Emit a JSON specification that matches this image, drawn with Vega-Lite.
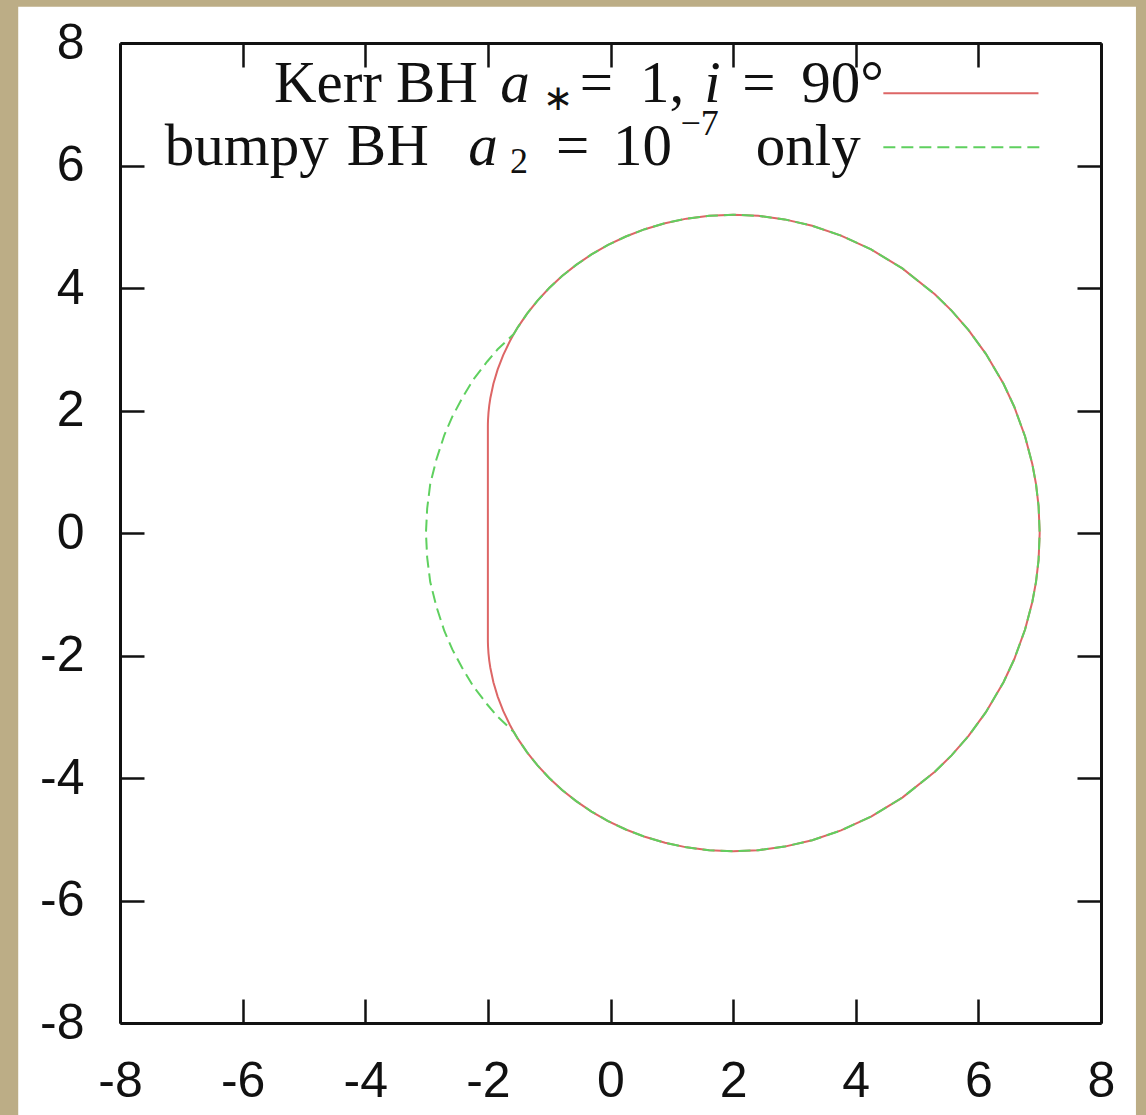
{
  "$schema": "https://vega.github.io/schema/vega-lite/v6.json",
  "width": 981,
  "height": 980,
  "autosize": "none",
  "padding": {"left": 120, "top": 43, "right": 45, "bottom": 92},
  "background": "#bcad86",
  "config": {"view": {"stroke": null}},
  "datasets": {
    "panel": [{"x0": -9.66, "x1": 8.57, "y0": -9.5, "y1": 8.59}],
    "kerr": [
      {"o": 1, "x": -2, "y": 1.7321}, {"o": 2, "x": -1.9996, "y": 1.7783}, {"o": 3, "x": -1.9975, "y": 1.848},
      {"o": 4, "x": -1.99, "y": 1.9647}, {"o": 5, "x": -1.9775, "y": 2.082}, {"o": 6, "x": -1.96, "y": 2.1996},
      {"o": 7, "x": -1.91, "y": 2.4356}, {"o": 8, "x": -1.84, "y": 2.671}, {"o": 9, "x": -1.75, "y": 2.9047},
      {"o": 10, "x": -1.64, "y": 3.1353}, {"o": 11, "x": -1.5775, "y": 3.249}, {"o": 12, "x": -1.51, "y": 3.3615},
      {"o": 13, "x": -1.36, "y": 3.582}, {"o": 14, "x": -1.19, "y": 3.7952}, {"o": 15, "x": -1, "y": 4},
      {"o": 16, "x": -0.79, "y": 4.1948}, {"o": 17, "x": -0.56, "y": 4.3779}, {"o": 18, "x": -0.31, "y": 4.548},
      {"o": 19, "x": -0.04, "y": 4.703}, {"o": 20, "x": 0.25, "y": 4.8412}, {"o": 21, "x": 0.56, "y": 4.9605},
      {"o": 22, "x": 0.89, "y": 5.0585}, {"o": 23, "x": 1.24, "y": 5.1325}, {"o": 24, "x": 1.61, "y": 5.1796},
      {"o": 25, "x": 2.0, "y": 5.1962}, {"o": 26, "x": 2.41, "y": 5.178}, {"o": 27, "x": 2.84, "y": 5.12},
      {"o": 28, "x": 3.29, "y": 5.0156}, {"o": 29, "x": 3.76, "y": 4.8562}, {"o": 30, "x": 4.25, "y": 4.6301},
      {"o": 31, "x": 4.76, "y": 4.32}, {"o": 32, "x": 5.29, "y": 3.8982}, {"o": 33, "x": 5.5625, "y": 3.6309},
      {"o": 34, "x": 5.84, "y": 3.3128}, {"o": 35, "x": 6.1225, "y": 2.9257}, {"o": 36, "x": 6.41, "y": 2.4356},
      {"o": 37, "x": 6.5849, "y": 2.0613}, {"o": 38, "x": 6.7616, "y": 1.5761}, {"o": 39, "x": 6.8804, "y": 1.1229},
      {"o": 40, "x": 6.9401, "y": 0.797}, {"o": 41, "x": 6.982, "y": 0.4377}, {"o": 42, "x": 7, "y": 0},
      {"o": 43, "x": 6.982, "y": -0.4377}, {"o": 44, "x": 6.9401, "y": -0.797}, {"o": 45, "x": 6.8804, "y": -1.1229},
      {"o": 46, "x": 6.7616, "y": -1.5761}, {"o": 47, "x": 6.5849, "y": -2.0613}, {"o": 48, "x": 6.41, "y": -2.4356},
      {"o": 49, "x": 6.1225, "y": -2.9257}, {"o": 50, "x": 5.84, "y": -3.3128}, {"o": 51, "x": 5.5625, "y": -3.6309},
      {"o": 52, "x": 5.29, "y": -3.8982}, {"o": 53, "x": 4.76, "y": -4.32}, {"o": 54, "x": 4.25, "y": -4.6301},
      {"o": 55, "x": 3.76, "y": -4.8562}, {"o": 56, "x": 3.29, "y": -5.0156}, {"o": 57, "x": 2.84, "y": -5.12},
      {"o": 58, "x": 2.41, "y": -5.178}, {"o": 59, "x": 2.0, "y": -5.1962}, {"o": 60, "x": 1.61, "y": -5.1796},
      {"o": 61, "x": 1.24, "y": -5.1325}, {"o": 62, "x": 0.89, "y": -5.0585}, {"o": 63, "x": 0.56, "y": -4.9605},
      {"o": 64, "x": 0.25, "y": -4.8412}, {"o": 65, "x": -0.04, "y": -4.703}, {"o": 66, "x": -0.31, "y": -4.548},
      {"o": 67, "x": -0.56, "y": -4.3779}, {"o": 68, "x": -0.79, "y": -4.1948}, {"o": 69, "x": -1, "y": -4},
      {"o": 70, "x": -1.19, "y": -3.7952}, {"o": 71, "x": -1.36, "y": -3.582}, {"o": 72, "x": -1.51, "y": -3.3615},
      {"o": 73, "x": -1.5775, "y": -3.249}, {"o": 74, "x": -1.64, "y": -3.1353}, {"o": 75, "x": -1.75, "y": -2.9047},
      {"o": 76, "x": -1.84, "y": -2.671}, {"o": 77, "x": -1.91, "y": -2.4356}, {"o": 78, "x": -1.96, "y": -2.1996},
      {"o": 79, "x": -1.9775, "y": -2.082}, {"o": 80, "x": -1.99, "y": -1.9647}, {"o": 81, "x": -1.9975, "y": -1.848},
      {"o": 82, "x": -1.9996, "y": -1.7783}, {"o": 83, "x": -2, "y": -1.7321}, {"o": 84, "x": -2, "y": 1.7321}
    ],
    "bumpy": [
      {"o": 1, "x": -1.5775, "y": 3.249}, {"o": 2, "x": -1.51, "y": 3.3615},
      {"o": 3, "x": -1.36, "y": 3.582}, {"o": 4, "x": -1.19, "y": 3.7952}, {"o": 5, "x": -1, "y": 4},
      {"o": 6, "x": -0.79, "y": 4.1948}, {"o": 7, "x": -0.56, "y": 4.3779}, {"o": 8, "x": -0.31, "y": 4.548},
      {"o": 9, "x": -0.04, "y": 4.703}, {"o": 10, "x": 0.25, "y": 4.8412}, {"o": 11, "x": 0.56, "y": 4.9605},
      {"o": 12, "x": 0.89, "y": 5.0585}, {"o": 13, "x": 1.24, "y": 5.1325}, {"o": 14, "x": 1.61, "y": 5.1796},
      {"o": 15, "x": 2.0, "y": 5.1962}, {"o": 16, "x": 2.41, "y": 5.178}, {"o": 17, "x": 2.84, "y": 5.12},
      {"o": 18, "x": 3.29, "y": 5.0156}, {"o": 19, "x": 3.76, "y": 4.8562}, {"o": 20, "x": 4.25, "y": 4.6301},
      {"o": 21, "x": 4.76, "y": 4.32}, {"o": 22, "x": 5.29, "y": 3.8982}, {"o": 23, "x": 5.5625, "y": 3.6309},
      {"o": 24, "x": 5.84, "y": 3.3128}, {"o": 25, "x": 6.1225, "y": 2.9257}, {"o": 26, "x": 6.41, "y": 2.4356},
      {"o": 27, "x": 6.5849, "y": 2.0613}, {"o": 28, "x": 6.7616, "y": 1.5761}, {"o": 29, "x": 6.8804, "y": 1.1229},
      {"o": 30, "x": 6.9401, "y": 0.797}, {"o": 31, "x": 6.982, "y": 0.4377}, {"o": 32, "x": 7, "y": 0},
      {"o": 33, "x": 6.982, "y": -0.4377}, {"o": 34, "x": 6.9401, "y": -0.797}, {"o": 35, "x": 6.8804, "y": -1.1229},
      {"o": 36, "x": 6.7616, "y": -1.5761}, {"o": 37, "x": 6.5849, "y": -2.0613}, {"o": 38, "x": 6.41, "y": -2.4356},
      {"o": 39, "x": 6.1225, "y": -2.9257}, {"o": 40, "x": 5.84, "y": -3.3128}, {"o": 41, "x": 5.5625, "y": -3.6309},
      {"o": 42, "x": 5.29, "y": -3.8982}, {"o": 43, "x": 4.76, "y": -4.32}, {"o": 44, "x": 4.25, "y": -4.6301},
      {"o": 45, "x": 3.76, "y": -4.8562}, {"o": 46, "x": 3.29, "y": -5.0156}, {"o": 47, "x": 2.84, "y": -5.12},
      {"o": 48, "x": 2.41, "y": -5.178}, {"o": 49, "x": 2.0, "y": -5.1962}, {"o": 50, "x": 1.61, "y": -5.1796},
      {"o": 51, "x": 1.24, "y": -5.1325}, {"o": 52, "x": 0.89, "y": -5.0585}, {"o": 53, "x": 0.56, "y": -4.9605},
      {"o": 54, "x": 0.25, "y": -4.8412}, {"o": 55, "x": -0.04, "y": -4.703}, {"o": 56, "x": -0.31, "y": -4.548},
      {"o": 57, "x": -0.56, "y": -4.3779}, {"o": 58, "x": -0.79, "y": -4.1948}, {"o": 59, "x": -1, "y": -4},
      {"o": 60, "x": -1.19, "y": -3.7952}, {"o": 61, "x": -1.36, "y": -3.582}, {"o": 62, "x": -1.51, "y": -3.3615},
      {"o": 63, "x": -1.5775, "y": -3.249}, {"o": 64, "x": -1.84, "y": -3.0}, {"o": 65, "x": -2.01, "y": -2.8},
      {"o": 66, "x": -2.24, "y": -2.5}, {"o": 67, "x": -2.42, "y": -2.2}, {"o": 68, "x": -2.58, "y": -1.9},
      {"o": 69, "x": -2.71, "y": -1.6}, {"o": 70, "x": -2.84, "y": -1.2}, {"o": 71, "x": -2.94, "y": -0.8},
      {"o": 72, "x": -2.99, "y": -0.4}, {"o": 73, "x": -3.01, "y": 0}, {"o": 74, "x": -2.99, "y": 0.4},
      {"o": 75, "x": -2.94, "y": 0.8}, {"o": 76, "x": -2.84, "y": 1.2}, {"o": 77, "x": -2.71, "y": 1.6},
      {"o": 78, "x": -2.58, "y": 1.9}, {"o": 79, "x": -2.42, "y": 2.2}, {"o": 80, "x": -2.24, "y": 2.5},
      {"o": 81, "x": -2.01, "y": 2.8}, {"o": 82, "x": -1.84, "y": 3.0}, {"o": 83, "x": -1.5775, "y": 3.249}
    ],
    "keyRed": [{"x0": 4.45, "x1": 6.98, "y": 7.18}],
    "keyGreen": [{"x0": 4.45, "x1": 7.02, "y": 6.3}],
    "roman": [
      {"x": -5.49, "y": 7.04, "t": "Kerr"},
      {"x": -3.5, "y": 7.04, "t": "BH"},
      {"x": -0.5, "y": 7.04, "t": "="},
      {"x": 0.48, "y": 7.04, "t": "1,"},
      {"x": 2.15, "y": 7.04, "t": "="},
      {"x": 3.11, "y": 7.04, "t": "90°"},
      {"x": -7.27, "y": 6.01, "t": "bumpy"},
      {"x": -4.3, "y": 6.01, "t": "BH"},
      {"x": -0.89, "y": 6.01, "t": "="},
      {"x": 0.04, "y": 6.01, "t": "10"},
      {"x": 2.37, "y": 6.01, "t": "only"}
    ],
    "italic": [
      {"x": -1.8, "y": 7.04, "t": "a"},
      {"x": 1.53, "y": 7.04, "t": "i"},
      {"x": -2.32, "y": 6.01, "t": "a"}
    ],
    "script": [
      {"x": -1.1, "y": 6.9, "t": "∗"},
      {"x": -1.64, "y": 5.88, "t": "2"},
      {"x": 1.14, "y": 6.5, "t": "−7"}
    ]
  },
  "resolve": {"axis": {"x": "independent", "y": "independent"}},
  "layer": [
    {
      "data": {"name": "panel"},
      "mark": {"type": "rect", "color": "white"},
      "encoding": {
        "x": {
          "field": "x0", "type": "quantitative",
          "scale": {"domain": [-8, 8], "nice": false, "zero": false},
          "axis": {
            "orient": "bottom", "title": null, "values": [-8, -6, -4, -2, 0, 2, 4, 6, 8],
            "labelExpr": "replace(datum.label, '−', '-')",
            "grid": false, "zindex": 1, "domainColor": "#111", "domainWidth": 3,
            "tickColor": "#111", "tickWidth": 2.5, "tickSize": -24,
            "labelFont": "Liberation Sans", "labelFontSize": 50, "labelColor": "#111",
            "labelPadding": 57, "labelFlush": false, "labelOverlap": false, "labelBound": false
          }
        },
        "x2": {"field": "x1"},
        "y": {
          "field": "y0", "type": "quantitative",
          "scale": {"domain": [-8, 8], "nice": false, "zero": false},
          "axis": {
            "orient": "left", "title": null, "values": [-8, -6, -4, -2, 0, 2, 4, 6, 8],
            "labelExpr": "replace(datum.label, '−', '-')",
            "grid": false, "zindex": 1, "domainColor": "#111", "domainWidth": 3,
            "tickColor": "#111", "tickWidth": 2.5, "tickSize": -24,
            "labelFont": "Liberation Sans", "labelFontSize": 50, "labelColor": "#111",
            "labelPadding": 60, "labelFlush": false, "labelOverlap": false, "labelBound": false
          }
        },
        "y2": {"field": "y1"}
      }
    },
    {
      "data": {"name": "kerr"},
      "mark": {"type": "line", "color": "#dd6666", "strokeWidth": 2},
      "encoding": {
        "x": {
          "field": "x", "type": "quantitative",
          "axis": {
            "orient": "top", "title": null, "values": [-8, -6, -4, -2, 0, 2, 4, 6, 8],
            "grid": false, "zindex": 1, "domainColor": "#111", "domainWidth": 3,
            "tickColor": "#111", "tickWidth": 2.5, "tickSize": -24, "labels": false
          }
        },
        "y": {
          "field": "y", "type": "quantitative",
          "axis": {
            "orient": "right", "title": null, "values": [-8, -6, -4, -2, 0, 2, 4, 6, 8],
            "grid": false, "zindex": 1, "domainColor": "#111", "domainWidth": 3,
            "tickColor": "#111", "tickWidth": 2.5, "tickSize": -24, "labels": false
          }
        },
        "order": {"field": "o", "type": "quantitative"}
      }
    },
    {
      "data": {"name": "bumpy"},
      "mark": {"type": "line", "color": "#5fd05f", "strokeWidth": 2, "strokeDash": [12, 6]},
      "encoding": {
        "x": {"field": "x", "type": "quantitative", "axis": null},
        "y": {"field": "y", "type": "quantitative", "axis": null},
        "order": {"field": "o", "type": "quantitative"}
      }
    },
    {
      "data": {"name": "keyRed"},
      "mark": {"type": "rule", "color": "#dd6666", "strokeWidth": 2},
      "encoding": {
        "x": {"field": "x0", "type": "quantitative", "axis": null},
        "x2": {"field": "x1"},
        "y": {"field": "y", "type": "quantitative", "axis": null}
      }
    },
    {
      "data": {"name": "keyGreen"},
      "mark": {"type": "rule", "color": "#5fd05f", "strokeWidth": 2, "strokeDash": [12, 6]},
      "encoding": {
        "x": {"field": "x0", "type": "quantitative", "axis": null},
        "x2": {"field": "x1"},
        "y": {"field": "y", "type": "quantitative", "axis": null}
      }
    },
    {
      "data": {"name": "roman"},
      "mark": {"type": "text", "font": "Liberation Serif", "fontSize": 59, "align": "left", "baseline": "alphabetic", "color": "#111"},
      "encoding": {
        "x": {"field": "x", "type": "quantitative", "axis": null},
        "y": {"field": "y", "type": "quantitative", "axis": null},
        "text": {"field": "t"}
      }
    },
    {
      "data": {"name": "italic"},
      "mark": {"type": "text", "font": "Liberation Serif", "fontStyle": "italic", "fontSize": 59, "align": "left", "baseline": "alphabetic", "color": "#111"},
      "encoding": {
        "x": {"field": "x", "type": "quantitative", "axis": null},
        "y": {"field": "y", "type": "quantitative", "axis": null},
        "text": {"field": "t"}
      }
    },
    {
      "data": {"name": "script"},
      "mark": {"type": "text", "font": "Liberation Serif", "fontSize": 36, "align": "left", "baseline": "alphabetic", "color": "#111"},
      "encoding": {
        "x": {"field": "x", "type": "quantitative", "axis": null},
        "y": {"field": "y", "type": "quantitative", "axis": null},
        "text": {"field": "t"}
      }
    }
  ]
}
